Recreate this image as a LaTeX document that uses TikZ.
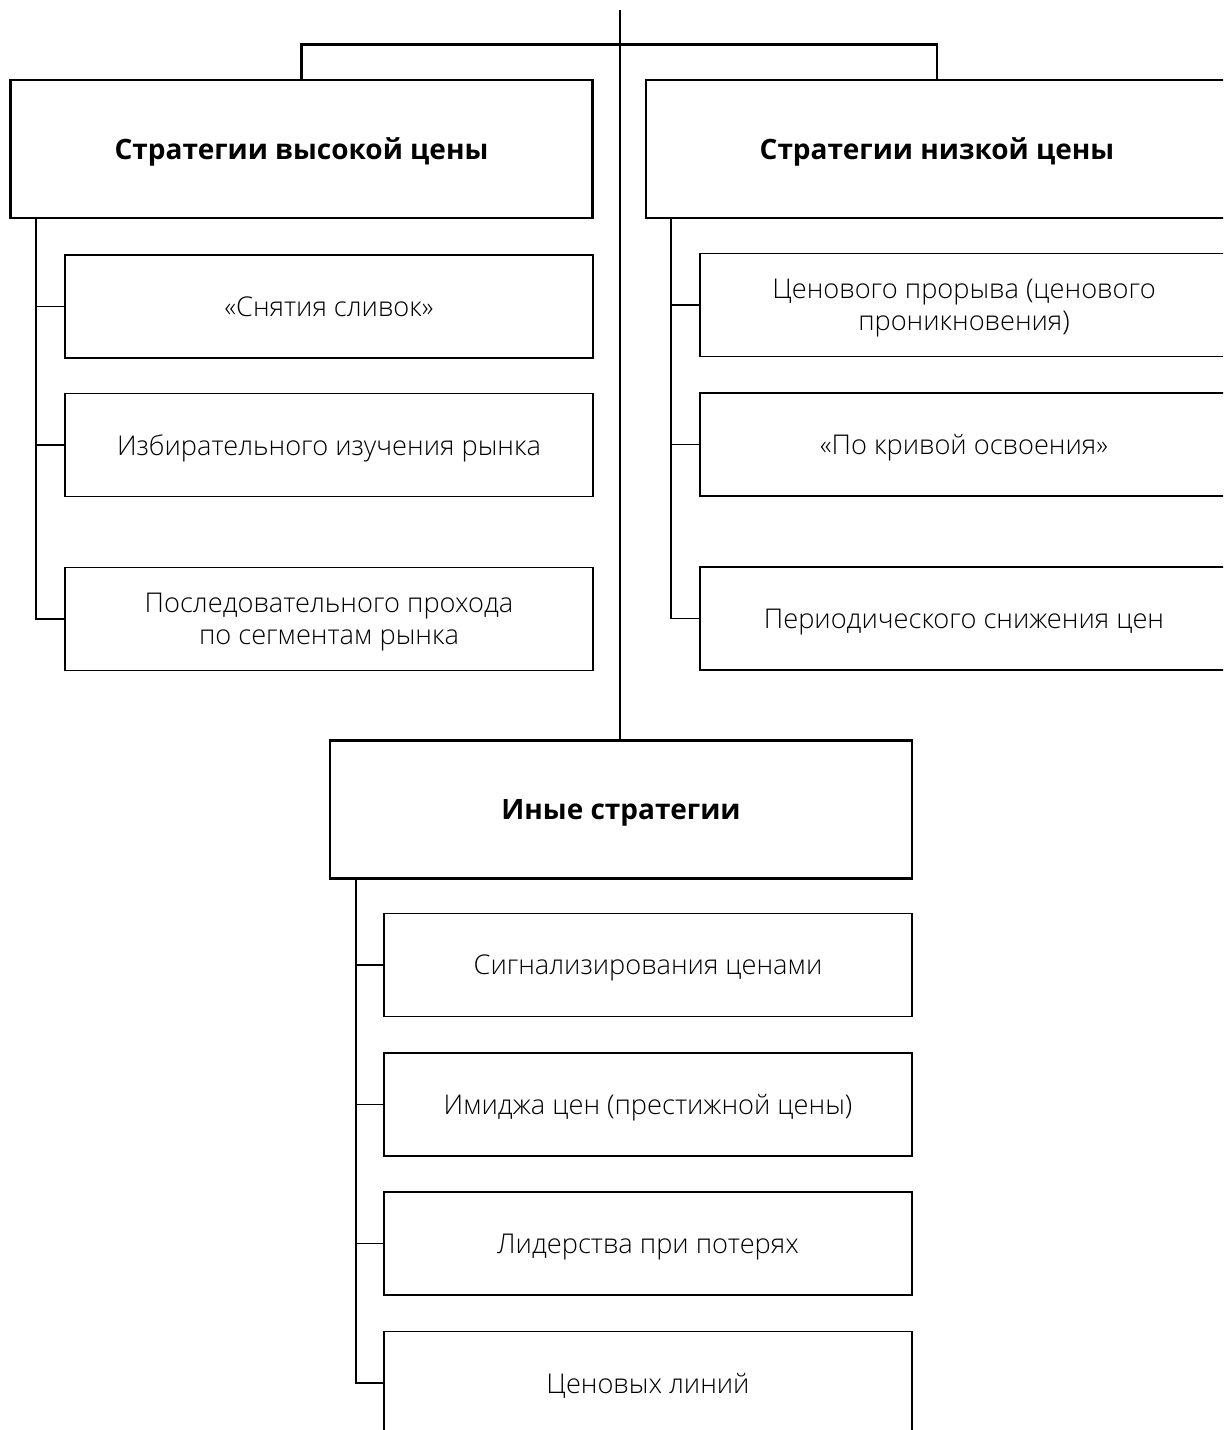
\documentclass[tikz,border=0pt]{standalone}
\usepackage{fontspec}
\setmainfont{Open Sans}
\newfontfamily\lightfont{Open Sans Light}
\usetikzlibrary{positioning}

\tikzset{
  headBox/.style={draw,line width=1.3pt,minimum width=291pt,minimum height=69pt,inner sep=0pt,text depth=0pt,font=\fontsize{14}{16}\selectfont\bfseries,align=center},
  itemBox/.style={draw,line width=0.8pt,minimum width=264pt,minimum height=51.5pt,inner sep=0pt,text depth=0pt,font=\lightfont\fontsize{13.6}{16}\selectfont,align=center},
  spine/.style={line width=0.8pt},
  trunk/.style={line width=1.3pt}
}

\begin{document}
\begin{tikzpicture}[x=0.5pt,y=-0.5pt]
  \clip (0,0) rectangle (1223,1430);

  % High price strategies
  \node[headBox] (hi) at (301.5,149) {Стратегии высокой цены};
  \node[itemBox] (h1) at (329,306.5) {«Снятия сливок»};
  \node[itemBox] (h2) at (329,445) {Избирательного изучения рынка};
  \node[itemBox] (h3) at (329,619) {Последовательного прохода\\по сегментам рынка};

  % Low price strategies
  \node[headBox] (lo) at (937,149) {Стратегии низкой цены};
  \node[itemBox] (l1) at (964,305) {Ценового прорыва (ценового\\проникновения)};
  \node[itemBox] (l2) at (964,444.5) {«По кривой освоения»};
  \node[itemBox] (l3) at (964,618.5) {Периодического снижения цен};

  % Other strategies
  \node[headBox] (ot) at (621,809.5) {Иные стратегии};
  \node[itemBox] (o1) at (648,965) {Сигнализирования ценами};
  \node[itemBox] (o2) at (648,1104.5) {Имиджа цен (престижной цены)};
  \node[itemBox] (o3) at (648,1243.5) {Лидерства при потерях};
  \node[itemBox] (o4) at (648,1383) {Ценовых линий};

  % trunk and top bar
  \coordinate (top) at (620,10);
  \draw[trunk] (top) -- (top |- ot.north);
  \draw[trunk] (hi.north) -- ++(0,-34) -| (lo.north);

  % side spines
  \coordinate (hs) at ([xshift=13.5pt]hi.south west);
  \coordinate (ls) at ([xshift=13pt]lo.south west);
  \coordinate (os) at ([xshift=13.5pt]ot.south west);
  \draw[spine] (hs) |- (h3.west);
  \draw[spine] (ls) |- (l3.west);
  \draw[spine] (os) |- (o4.west);
  \foreach \i in {1,2} {
    \draw[spine] (h\i.west) -- (h\i.west -| hs);
    \draw[spine] (l\i.west) -- (l\i.west -| ls);
  }
  \foreach \i in {1,2,3}
    \draw[spine] (o\i.west) -- (o\i.west -| os);
\end{tikzpicture}
\end{document}
